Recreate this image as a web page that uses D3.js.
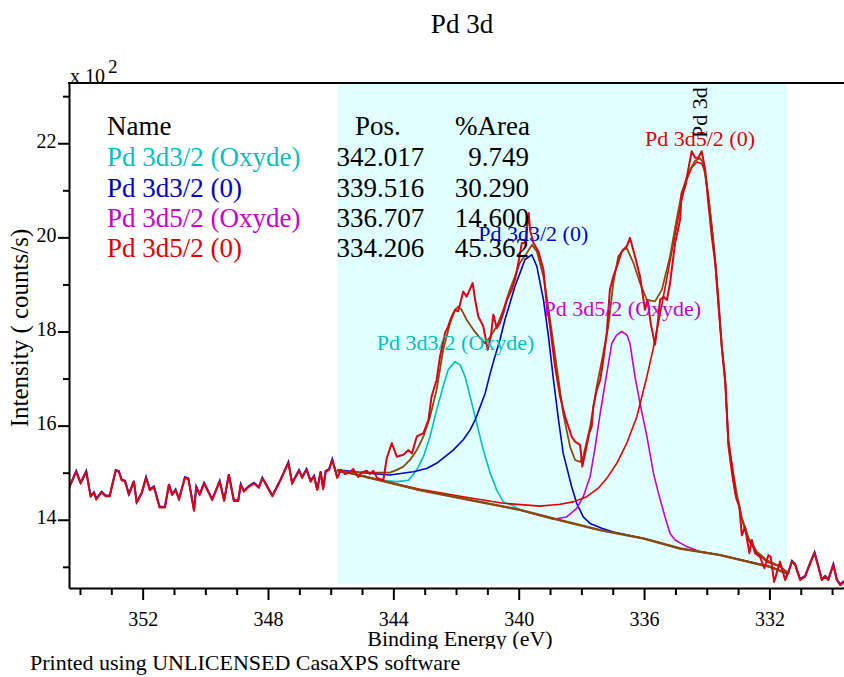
<!DOCTYPE html>
<html><head><meta charset="utf-8">
<script src="https://cdn.jsdelivr.net/npm/d3@7"></script>
<style>
html,body{margin:0;padding:0;background:#fff;}
svg{display:block;font-family:"Liberation Serif","Times New Roman",serif;}
</style></head><body>
<svg id="chart" width="844" height="677"></svg>
<script>
// ---------------- DATA ----------------
const xDomain = [354.35, 329.62];
const yDomain = [1255, 2328];
const regionE = [345.79, 331.44];

const xMajorTicks = [352, 348, 344, 340, 336, 332];
const xMinorTicks = [354, 353, 351, 350, 349, 347, 346, 345, 343, 342, 341, 339, 338, 337, 335, 334, 333, 331, 330];
const yMajorTicks = [1400, 1600, 1800, 2000, 2200];
const yMinorTicks = [1300, 1500, 1700, 1900, 2100, 2300];

const rawE = [354.35,354.12,353.98,353.80,353.66,353.55,353.48,353.31,353.18,353.05,352.86,352.76,352.67,352.56,352.44,352.28,352.19,352.03,351.89,351.77,351.64,351.46,351.29,351.16,351.06,350.95,350.84,350.65,350.54,350.36,350.29,350.18,350.04,349.78,349.54,349.40,349.25,349.09,348.95,348.87,348.77,348.61,348.45,348.29,348.18,347.86,347.60,347.35,347.23,347.01,346.91,346.77,346.64,346.53,346.43,346.32,346.24,346.16,346.05,345.95,
345.79,345.67,345.54,345.38,345.28,345.12,345.00,344.84,344.75,344.64,344.52,344.32,344.21,344.05,343.89,343.68,343.52,343.41,343.25,343.04,342.88,342.78,342.62,342.51,342.35,342.25,342.14,342.03,341.93,341.77,341.66,341.47,341.39,341.29,341.13,340.99,340.89,340.81,340.70,340.60,340.49,340.38,340.22,340.12,340.01,339.90,339.80,339.68,339.64,339.53,339.37,339.21,339.11,339.00,338.84,338.68,338.52,338.31,338.20,338.04,337.97,337.88,337.75,337.67,337.62,337.51,337.40,337.30,337.19,337.09,336.98,336.87,336.71,336.55,336.45,336.29,336.13,335.97,335.89,335.78,335.65,335.55,335.49,335.38,335.27,335.17,335.01,334.85,334.80,334.69,334.59,334.48,334.37,334.27,334.16,334.05,333.96,333.84,333.73,333.63,333.52,333.41,333.31,333.15,333.06,332.96,332.88,332.78,332.64,332.56,332.46,332.30,332.16,332.03,331.96,331.85,331.66,331.50,331.39,331.28,331.18,331.02,330.86,330.70,330.56,330.44,330.33,330.22,330.12,329.96,329.85,329.74,329.62];
const rawCounts = [1467,1502,1477,1502,1449,1457,1443,1458,1450,1450,1504,1502,1484,1481,1453,1481,1436,1456,1489,1463,1469,1426,1426,1474,1453,1463,1443,1489,1486,1419,1469,1453,1477,1442,1481,1440,1495,1440,1440,1474,1460,1470,1477,1468,1488,1450,1484,1521,1477,1504,1489,1506,1481,1492,1463,1501,1465,1502,1506,1527,
1489,1506,1497,1501,1508,1491,1501,1504,1497,1504,1489,1484,1531,1563,1534,1538,1548,1541,1577,1584,1612,1662,1697,1747,1797,1811,1832,1846,1843,1885,1874,1903,1867,1832,1811,1761,1789,1836,1807,1818,1839,1867,1889,1910,1946,1988,1988,2052,2016,1988,1970,1931,1861,1811,1726,1662,1619,1577,1566,1559,1513,1541,1584,1598,1640,1676,1697,1740,1797,1889,1917,1938,1970,1981,1999,1960,1917,1846,1867,1814,1772,1825,1867,1874,1867,1903,1988,2038,2094,2108,2144,2183,2169,2169,2183,2144,2080,2002,1946,1860,1768,1690,1570,1492,1446,1428,1367,1385,1329,1357,1329,1321,1297,1325,1321,1268,1311,1272,1289,1311,1304,1272,1279,1307,1329,1300,1272,1279,1272,1304,1272,1261,1268];

const backgroundE = [345.79,344.43,343.15,341.55,339.96,338.68,337.40,336.00,334.85,333.57,331.98,331.44];
const backgroundCounts = [1506,1484,1463,1442,1421,1399,1378,1360,1339,1325,1300,1286];

const oxyde32E = [345.79,344.43,343.89,343.52,343.25,343.04,342.83,342.62,342.41,342.25,342.03,341.87,341.71,341.55,341.34,341.13,340.91,340.70,340.49,340.22,339.96,338.68,337.40,336.00,334.85,333.57,331.98,331.44];
const oxyde32Counts = [1506,1484,1481,1484,1506,1534,1577,1633,1683,1719,1736,1729,1704,1662,1605,1548,1499,1463,1438,1431,1421,1399,1378,1360,1339,1325,1300,1286];

const metal32E = [345.79,344.96,344.11,343.36,342.94,342.62,342.35,342.09,341.77,341.55,341.39,341.23,341.07,340.91,340.76,340.60,340.44,340.28,340.12,339.96,339.80,339.58,339.42,339.21,339.05,338.89,338.73,338.58,338.42,338.31,338.15,337.94,337.72,337.35,336.98,336.00,334.85,333.57,331.98,331.44];
const metal32Counts = [1506,1500,1495,1502,1509,1520,1534,1548,1570,1591,1612,1640,1669,1711,1747,1782,1825,1860,1896,1924,1953,1963,1938,1867,1789,1697,1612,1541,1499,1470,1435,1406,1392,1382,1374,1360,1339,1325,1300,1286];

const oxyde52E = [345.79,344.43,343.15,341.55,339.96,338.89,338.47,338.15,337.94,337.72,337.56,337.40,337.19,337.03,336.87,336.71,336.55,336.45,336.29,336.13,335.91,335.70,335.54,335.33,335.17,335.01,334.64,334.21,333.57,331.98,331.44];
const oxyde52Counts = [1506,1484,1463,1442,1421,1401,1406,1424,1449,1492,1555,1626,1711,1775,1793,1800,1793,1775,1704,1648,1577,1499,1456,1406,1371,1357,1343,1332,1325,1300,1286];

const metal52E = [345.79,344.43,343.15,341.77,340.49,339.32,338.68,338.26,337.83,337.46,337.19,336.87,336.55,336.23,336.07,335.91,335.70,335.59,335.43,335.22,335.06,334.90,334.80,334.64,334.48,334.32,334.16,334.05,333.95,333.84,333.73,333.63,333.52,333.41,333.36,333.31,333.20,333.10,332.99,332.88,332.67,332.40,332.08,331.66,331.44];
const metal52Counts = [1506,1484,1465,1449,1435,1429,1433,1438,1449,1467,1488,1520,1563,1619,1662,1704,1766,1803,1858,1932,1990,2045,2080,2122,2148,2160,2157,2138,2087,2023,1950,1860,1768,1697,1627,1555,1499,1457,1436,1400,1357,1329,1311,1300,1289];

const envelopeE = [345.79,344.96,344.11,343.89,343.68,343.47,343.25,343.04,342.83,342.62,342.41,342.19,342.03,341.93,341.82,341.66,341.45,341.23,341.07,340.91,340.70,340.49,340.28,340.12,339.96,339.74,339.58,339.42,339.21,339.00,338.79,338.58,338.36,338.20,338.04,337.94,337.72,337.51,337.30,337.14,336.98,336.82,336.66,336.55,336.34,336.13,335.91,335.65,335.43,335.17,334.96,334.80,334.59,334.37,334.21,334.11,333.95,333.79,333.63,333.52,333.41,333.31,333.15,333.04,332.88,332.67,332.40,332.08,331.66,331.44];
const envelopeCounts = [1502,1500,1500,1506,1513,1527,1548,1577,1619,1676,1761,1818,1846,1853,1846,1825,1804,1786,1775,1789,1811,1846,1889,1917,1946,1967,1984,1970,1917,1825,1726,1626,1555,1527,1523,1534,1598,1683,1754,1811,1904,1960,1974,1977,1946,1903,1867,1864,1889,1960,2038,2094,2137,2163,2168,2158,2090,1995,1874,1768,1700,1562,1497,1455,1405,1362,1332,1314,1301,1289];

const componentNames = ["Pd 3d3/2 (Oxyde)", "Pd 3d3/2 (0)", "Pd 3d5/2 (Oxyde)", "Pd 3d5/2 (0)"];
const componentPos = ["342.017", "339.516", "336.707", "334.206"];
const componentArea = ["9.749", "30.290", "14.600", "45.362"];
const componentColors = ["#00bfbf", "#0000c8", "#c800c8", "#e00000"];

// ---------------- CHART ----------------
const svg = d3.select("#chart");
const x = d3.scaleLinear().domain(xDomain).range([69, 844]);
const y = d3.scaleLinear().domain(yDomain).range([588, 83]);
const pairs = (E, C) => d3.zip(E, C);
const line = d3.line().x(d => x(d[0])).y(d => y(d[1]));

// fit region shading
svg.append("rect")
  .attr("x", x(regionE[0])).attr("y", 84)
  .attr("width", x(regionE[1]) - x(regionE[0])).attr("height", 500)
  .attr("fill", "#e0ffff");

svg.append("clipPath").attr("id", "plotclip").append("rect")
  .attr("x", 69).attr("y", 83).attr("width", 775).attr("height", 505);
const plot = svg.append("g").attr("clip-path", "url(#plotclip)");

const brown = "#8c4a0a";
// components
const comps = [[oxyde32E, oxyde32Counts], [metal32E, metal32Counts], [oxyde52E, oxyde52Counts], [metal52E, metal52Counts]];
comps.forEach((c, i) => {
  plot.append("path").datum(pairs(c[0], c[1])).attr("d", line)
    .attr("fill", "none").attr("stroke", componentColors[i]).attr("stroke-width", 1.6)
    .attr("stroke-linejoin", "round");
});
// background (drawn over the component tails)
plot.append("path").datum(pairs(backgroundE, backgroundCounts)).attr("d", line)
  .attr("fill", "none").attr("stroke", brown).attr("stroke-width", 2.4);
// envelope
plot.append("path").datum(pairs(envelopeE, envelopeCounts)).attr("d", line)
  .attr("fill", "none").attr("stroke", brown).attr("stroke-width", 1.8).attr("stroke-linejoin", "round");

// raw data (blue under-copy outside the region)
const raw = pairs(rawE, rawCounts);
const leftRaw = raw.filter(d => d[0] >= regionE[0]);
const rightRaw = raw.filter(d => d[0] <= 331.5);
[leftRaw, rightRaw].forEach(seg => {
  plot.append("path").datum(seg).attr("d", line).attr("transform", "translate(0,-0.8)")
    .attr("fill", "none").attr("stroke", "#1010c8").attr("stroke-width", 2);
});
plot.append("path").datum(raw).attr("d", line)
  .attr("fill", "none").attr("stroke", "#dc0014").attr("stroke-width", 2).attr("stroke-linejoin", "round");

// axes
function styleAxis(g) {
  g.selectAll("line").attr("stroke", "#000").attr("stroke-width", 2);
  g.selectAll("path.domain").attr("stroke", "#000").attr("stroke-width", 2);
  g.selectAll("text").attr("fill", "#000").attr("font-family", "Liberation Serif, serif").attr("font-size", 20);
}
const gxMinor = svg.append("g").attr("transform", "translate(0,588)")
  .call(d3.axisBottom(x).tickValues(xMinorTicks).tickSize(7).tickFormat("").tickSizeOuter(0));
gxMinor.select("path.domain").remove();
styleAxis(gxMinor);
const gx = svg.append("g").attr("transform", "translate(0,588)")
  .call(d3.axisBottom(x).tickValues(xMajorTicks).tickSize(12).tickFormat(d => d).tickSizeOuter(0));
styleAxis(gx);
gx.selectAll("text").attr("y", 38).attr("dy", 0);

const gyMinor = svg.append("g").attr("transform", "translate(69,0)")
  .call(d3.axisLeft(y).tickValues(yMinorTicks).tickSize(6).tickFormat("").tickSizeOuter(0));
gyMinor.select("path.domain").remove();
styleAxis(gyMinor);
const gy = svg.append("g").attr("transform", "translate(69,0)")
  .call(d3.axisLeft(y).tickValues(yMajorTicks).tickSize(11).tickFormat(d => d / 100).tickSizeOuter(0));
styleAxis(gy);
gy.selectAll("text").attr("x", -12.5).attr("dy", 4);

// top border
svg.append("line").attr("x1", 68).attr("x2", 844).attr("y1", 83).attr("y2", 83)
  .attr("stroke", "#000").attr("stroke-width", 2);

// multiplier
svg.append("text").attr("x", 70).attr("y", 83).attr("font-size", 20).attr("fill", "#000").text("x 10");
svg.append("text").attr("x", 108).attr("y", 73).attr("font-size", 19).attr("fill", "#000").text("2");

// title
svg.append("text").attr("x", 462).attr("y", 33).attr("text-anchor", "middle")
  .attr("font-size", 27).attr("fill", "#000").text("Pd 3d");

// axis titles
svg.append("text").attr("transform", "translate(28,328) rotate(-90)").attr("text-anchor", "middle")
  .attr("font-size", 25).attr("fill", "#000").text("Intensity ( counts/s)");
svg.append("clipPath").attr("id", "xlabclip").append("rect")
  .attr("x", 0).attr("y", 600).attr("width", 844).attr("height", 49);
svg.append("text").attr("clip-path", "url(#xlabclip)").attr("x", 460).attr("y", 646).attr("text-anchor", "middle")
  .attr("font-size", 22).attr("fill", "#000").text("Binding Energy (eV)");
svg.append("text").attr("x", 30).attr("y", 670)
  .attr("font-size", 22).attr("fill", "#000").text("Printed using UNLICENSED CasaXPS software");

// legend table
const lg = svg.append("g").attr("font-size", 27);
lg.append("text").attr("x", 107).attr("y", 135).attr("fill", "#000").text("Name");
lg.append("text").attr("x", 355).attr("y", 135).attr("fill", "#000").text("Pos.");
lg.append("text").attr("x", 455).attr("y", 135).attr("fill", "#000").text("%Area");
const rowY = [166, 196.5, 226.5, 257];
componentNames.forEach((n, i) => {
  lg.append("text").attr("x", 107).attr("y", rowY[i]).attr("fill", componentColors[i]).text(n);
  lg.append("text").attr("x", 336.5).attr("y", rowY[i]).attr("fill", "#000").text(componentPos[i]);
  lg.append("text").attr("x", 529).attr("y", rowY[i]).attr("text-anchor", "end").attr("fill", "#000").text(componentArea[i]);
});

// peak annotations
const annotations = [
  {e: 344.53, c: 1761, i: 0},
  {e: 341.29, c: 1992, i: 1},
  {e: 339.21, c: 1832, i: 2},
  {e: 335.97, c: 2195, i: 3}
];
annotations.forEach(a => {
  svg.append("text").attr("x", x(a.e)).attr("y", y(a.c)).attr("font-size", 22)
    .attr("fill", componentColors[a.i]).text(componentNames[a.i]);
});
svg.append("text").attr("transform", `translate(${x(334.0)},${y(2211)}) rotate(-90)`)
  .attr("font-size", 22).attr("fill", "#000").text("Pd 3d");
</script>
</body></html>
